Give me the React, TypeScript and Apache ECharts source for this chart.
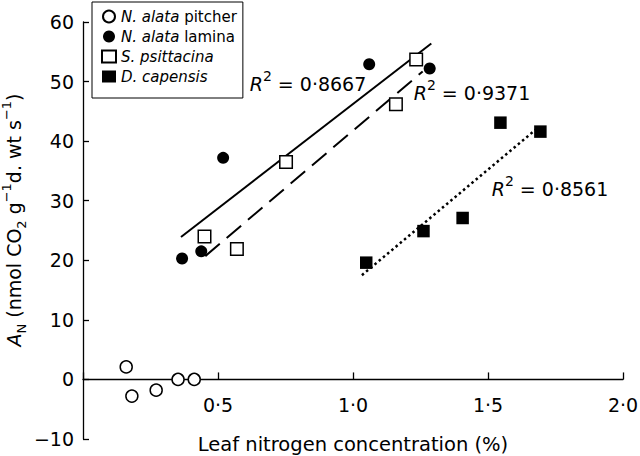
import React, { useEffect, useRef } from 'react';
import * as echarts from 'echarts';

// ---- data ----
const pitcherX = [0.16, 0.181, 0.271, 0.352, 0.412];
const pitcherY = [2.1, -2.8, -1.8, 0, 0];
const laminaX = [0.367, 0.438, 0.519, 1.06, 1.284];
const laminaY = [20.3, 21.5, 37.2, 52.9, 52.2];
const psittacinaX = [0.45, 0.57, 0.752, 1.159, 1.234];
const psittacinaY = [24.0, 21.9, 36.5, 46.2, 53.7];
const capensisX = [1.049, 1.261, 1.406, 1.546, 1.694];
const capensisY = [19.6, 24.9, 27.1, 43.1, 41.6];

// regression lines (end points)
const laminaFitX = [0.363, 1.29];
const laminaFitY = [23.9, 56.4];
const psittacinaFitX = [0.453, 1.258];
const psittacinaFitY = [20.7, 51.7];
const capensisFitX = [1.033, 1.681];
const capensisFitY = [17.5, 42.1];

const legendItalic = ['N. alata', 'N. alata', 'S. psittacina', 'D. capensis'];
const legendPlain = [' pitcher', ' lamina', '', ''];
const seriesNames = legendItalic.map((s, i) => s + legendPlain[i]);
const r2Values = ['0·8667', '0·9371', '0·8561'];

const xMin = 0, xMax = 2, xStep = 0.5;
const yMin = -10, yMax = 60, yStep = 10;

const FONT = 'DejaVu Sans';
const zip = (xs: number[], ys: number[]) => xs.map((x, i) => [x, ys[i]]);

export default function App() {
  const ref = useRef<HTMLDivElement>(null);
  useEffect(() => {
    document.body.style.margin = '0';
    const chart = echarts.init(ref.current!, undefined, { renderer: 'svg' });

    const r2Pos = [
      [308, 84],
      [472, 93],
      [550, 189],
    ];
    const supRich = {
      r: { fontFamily: FONT, fontSize: 19, fontStyle: 'italic', lineHeight: 30, color: '#000' },
      s: { fontFamily: FONT, fontSize: 14, lineHeight: 14, verticalAlign: 'top', color: '#000' },
      t: { fontFamily: FONT, fontSize: 19, lineHeight: 30, color: '#000' },
    };

    const option: any = {
      animation: false,
      backgroundColor: '#fff',
      grid: { left: 83, right: 17, top: 22, bottom: 17, containLabel: false, outerBoundsMode: 'none' },
      xAxis: {
        type: 'value',
        min: xMin,
        max: xMax,
        interval: xStep,
        axisLine: { onZero: true, lineStyle: { color: '#000', width: 1.3 } },
        axisTick: { inside: true, length: 7, lineStyle: { color: '#000', width: 1.3 } },
        splitLine: { show: false },
        axisLabel: {
          // labels are laid out from the grid's bottom edge; pull them up to sit under the zero line
          margin: -44,
          fontFamily: FONT,
          fontSize: 19,
          color: '#000',
          formatter: (v: number) => (v === 0 ? '' : v.toFixed(1).replace('.', '·')),
        },
        name: 'Leaf nitrogen concentration (%)',
        nameLocation: 'middle',
        nameGap: -5,
        nameTextStyle: { fontFamily: FONT, fontSize: 19.5, color: '#000' },
      },
      yAxis: {
        type: 'value',
        min: yMin,
        max: yMax,
        interval: yStep,
        axisLine: { onZero: false, lineStyle: { color: '#000', width: 1.3 } },
        axisTick: { inside: true, length: 6, lineStyle: { color: '#000', width: 1.3 } },
        splitLine: { show: false },
        axisLabel: {
          margin: 9,
          fontFamily: FONT,
          fontSize: 19,
          color: '#000',
          formatter: (v: number) => (v < 0 ? '−' + Math.abs(v) : String(v)),
        },
      },
      legend: {
        orient: 'vertical',
        left: 92,
        top: 2,
        padding: [7, 6, 14, 9],
        itemWidth: 14,
        itemHeight: 12,
        itemGap: 5,
        borderColor: '#000',
        borderWidth: 1,
        data: seriesNames,
        formatter: (name: string) => {
          const i = seriesNames.indexOf(name);
          return '{i|' + legendItalic[i] + '}' + (legendPlain[i] ? '{n|' + legendPlain[i] + '}' : '');
        },
        textStyle: {
          fontFamily: FONT,
          fontSize: 15,
          color: '#000',
          rich: {
            i: { fontFamily: FONT, fontSize: 15, fontStyle: 'italic', color: '#000' },
            n: { fontFamily: FONT, fontSize: 15, color: '#000' },
          },
        },
      },
      series: [
        {
          type: 'line',
          data: zip(laminaFitX, laminaFitY),
          symbol: 'none',
          lineStyle: { color: '#000', width: 2 },
          silent: true,
          z: 1,
        },
        {
          type: 'line',
          data: zip(psittacinaFitX, psittacinaFitY),
          symbol: 'none',
          lineStyle: { color: '#000', width: 2, type: [19, 9] },
          silent: true,
          z: 1,
        },
        {
          type: 'line',
          data: zip(capensisFitX, capensisFitY),
          symbol: 'none',
          lineStyle: { color: '#000', width: 2.5, type: [2.5, 3] },
          silent: true,
          z: 1,
        },
        {
          name: seriesNames[0],
          type: 'scatter',
          data: zip(pitcherX, pitcherY),
          symbol: 'circle',
          symbolSize: 12,
          itemStyle: { color: '#fff', borderColor: '#000', borderWidth: 1.5, opacity: 1 },
          z: 3,
        },
        {
          name: seriesNames[1],
          type: 'scatter',
          data: zip(laminaX, laminaY),
          symbol: 'circle',
          symbolSize: 12,
          itemStyle: { color: '#000', borderColor: '#000', borderWidth: 0, opacity: 1 },
          z: 3,
        },
        {
          name: seriesNames[2],
          type: 'scatter',
          data: zip(psittacinaX, psittacinaY),
          symbol: 'rect',
          symbolSize: 12.5,
          itemStyle: { color: '#fff', borderColor: '#000', borderWidth: 1.5, opacity: 1 },
          z: 3,
        },
        {
          name: seriesNames[3],
          type: 'scatter',
          data: zip(capensisX, capensisY),
          symbol: 'rect',
          symbolSize: 12.5,
          itemStyle: { color: '#000', borderColor: '#000', borderWidth: 0, opacity: 1 },
          z: 3,
        },
      ],
      graphic: [
        ...r2Values.map((v, i) => ({
          type: 'text',
          x: r2Pos[i][0],
          y: r2Pos[i][1],
          z: 10,
          style: {
            text: '{r|R}{s|2}{t| = ' + v + '}',
            align: 'center',
            verticalAlign: 'middle',
            rich: supRich,
            fill: '#000',
          },
        })),
        {
          type: 'text',
          x: 14,
          y: 220,
          rotation: Math.PI / 2,
          style: {
            text: '{a|A}{sub|N}{t| (nmol CO}{sub|2}{t| g}{sup|−1}{t|d. wt s}{sup|−1}{t|)}',
            align: 'center',
            verticalAlign: 'middle',
            fill: '#000',
            rich: {
              a: { fontFamily: FONT, fontSize: 19, fontStyle: 'italic', lineHeight: 28, color: '#000' },
              t: { fontFamily: FONT, fontSize: 19, lineHeight: 28, color: '#000' },
              sub: { fontFamily: FONT, fontSize: 13, lineHeight: 13, verticalAlign: 'bottom', color: '#000' },
              sup: { fontFamily: FONT, fontSize: 13, lineHeight: 13, verticalAlign: 'top', color: '#000' },
            },
          },
        },
      ],
    };
    chart.setOption(option);
    return () => chart.dispose();
  }, []);
  return <div ref={ref} style={{ position: 'fixed', left: 0, top: 0, width: 640, height: 456 }} />;
}
